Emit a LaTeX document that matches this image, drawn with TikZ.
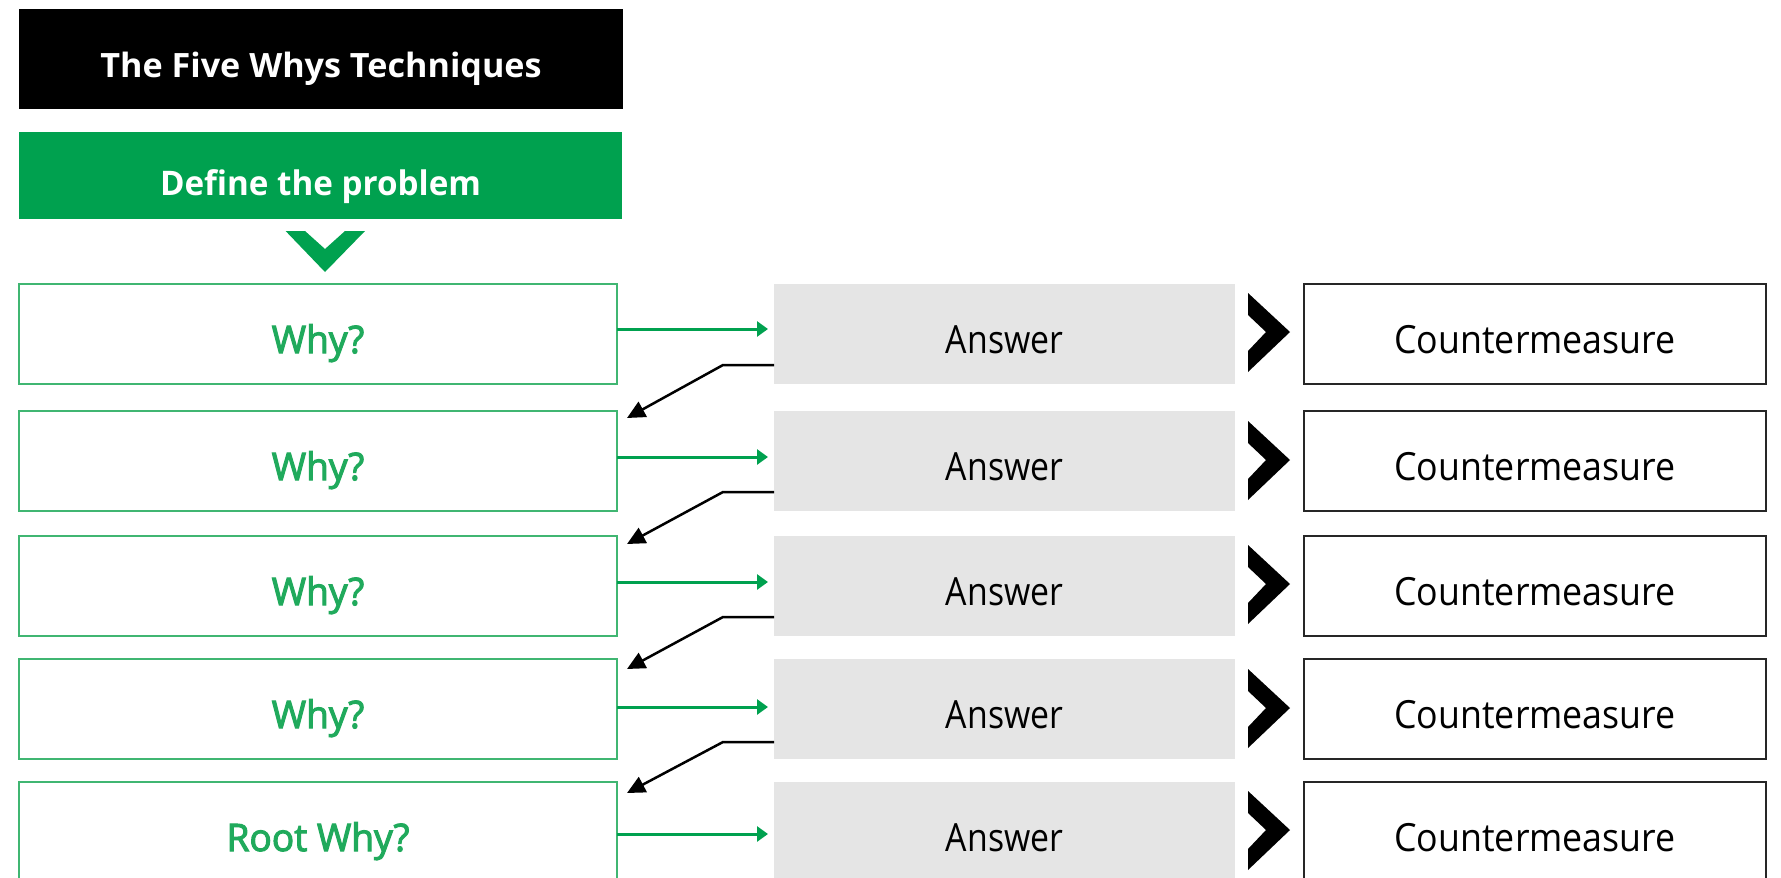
\documentclass[tikz,border=0pt]{standalone}
\usepackage{fontspec}
\setmainfont{Open Sans}
\newfontfamily\fbody{Open Sans}[FakeStretch=0.87]
\newfontfamily\fwhy{Open Sans}[FakeStretch=0.98,FakeBold=2.8]
\newfontfamily\fcm{Open Sans}[FakeStretch=0.92]
\newfontfamily\fhead{Open Sans}[FakeStretch=1.02]
\newfontfamily\fprob{Open Sans}[FakeStretch=0.98]
\usetikzlibrary{arrows.meta}
\definecolor{gfill}{RGB}{0,161,79}
\definecolor{gline}{RGB}{64,182,114}
\definecolor{gtext}{RGB}{32,170,92}
\definecolor{ansfill}{RGB}{229,229,229}
\tikzset{
  box/.style={anchor=north west, inner sep=0pt, outer sep=0pt, text depth=0bp},
  titlebox/.style={box, fill=black, text=white, minimum width=604bp, minimum height=100bp,
    font=\fhead\bfseries\fontsize{33.6}{40}\selectfont, text height=36bp},
  probbox/.style={box, fill=gfill, text=white, minimum width=603bp, minimum height=87bp,
    font=\fprob\bfseries\fontsize{34}{40}\selectfont, text height=39bp},
  whybox/.style={box, draw=gline, line width=2bp, fill=white, text=gtext, minimum width=598bp, minimum height=100bp,
    font=\fwhy\fontsize{38}{44}\selectfont, text height=38bp},
  ansbox/.style={box, fill=ansfill, text=black, minimum width=461bp, minimum height=100bp,
    font=\fbody\fontsize{39}{44}\selectfont, text height=38bp},
  cmbox/.style={box, draw=black!85, line width=1.6bp, fill=white, text=black, minimum width=462bp, minimum height=100bp,
    font=\fcm\fontsize{39}{44}\selectfont, text height=38bp},
  garrow/.style={draw=gfill, line width=3bp, -{Triangle[length=11bp,width=15bp]}},
  barrow/.style={draw=black, line width=2.5bp, -{Triangle[length=18bp,width=17bp]}},
}
\begin{document}
\begin{tikzpicture}[x=1bp,y=-1bp]
\useasboundingbox (0,0) rectangle (1781,878);
\clip (0,0) rectangle (1781,878);
\node[titlebox] (title) at (19,9) {The Five Whys Techniques};
\node[probbox] (prob) at (19,132) {Define the problem};
\fill[gfill] (285.6,231) -- (305,231) -- (325,249) -- (345,231) -- (365,231) -- (325,272) -- cycle;

\node[whybox] (w1) at (19,284) {Why?};
\node[whybox] (w2) at (19,411) {Why?};
\node[whybox] (w3) at (19,536) {Why?};
\node[whybox] (w4) at (19,659) {Why?};
\node[whybox] (w5) at (19,782) {Root Why?};

\node[ansbox] (a1) at (774,284) {Answer};
\node[ansbox] (a2) at (774,411) {Answer};
\node[ansbox] (a3) at (774,536) {Answer};
\node[ansbox] (a4) at (774,659) {Answer};
\node[ansbox] (a5) at (774,782) {Answer};

\node[cmbox] (c1) at (1304,284) {Countermeasure};
\node[cmbox] (c2) at (1304,411) {Countermeasure};
\node[cmbox] (c3) at (1304,536) {Countermeasure};
\node[cmbox] (c4) at (1304,659) {Countermeasure};
\node[cmbox] (c5) at (1304,782) {Countermeasure};

\foreach \cy in {332,460,584,708,830}{
  \fill[black] (1248,\cy-39) -- (1290,\cy) -- (1248,\cy+40) -- (1248,\cy+19) -- (1266,\cy) -- (1248,\cy-17) -- cycle;
}

\draw[garrow] ([yshift=5bp]w1.east) -- ([yshift=5bp,xshift=-6bp]a1.west);
\draw[garrow] ([yshift=4bp]w2.east) -- ([yshift=4bp,xshift=-6bp]a2.west);
\draw[garrow] ([yshift=4bp]w3.east) -- ([yshift=4bp,xshift=-6bp]a3.west);
\draw[garrow] ([yshift=2bp]w4.east) -- ([yshift=2bp,xshift=-6bp]a4.west);
\draw[garrow] ([yshift=-2bp]w5.east) -- ([yshift=-2bp,xshift=-6bp]a5.west);

\draw[barrow] ([yshift=19bp]a1.south west) -- ++(-51,0) -- ([xshift=10bp,yshift=-7bp]w2.north east);
\draw[barrow] ([yshift=19bp]a2.south west) -- ++(-51,0) -- ([xshift=10bp,yshift=-8bp]w3.north east);
\draw[barrow] ([yshift=19bp]a3.south west) -- ++(-51,0) -- ([xshift=10bp,yshift=-10bp]w4.north east);
\draw[barrow] ([yshift=17bp]a4.south west) -- ++(-51,0) -- ([xshift=10bp,yshift=-11bp]w5.north east);
\end{tikzpicture}
\end{document}
